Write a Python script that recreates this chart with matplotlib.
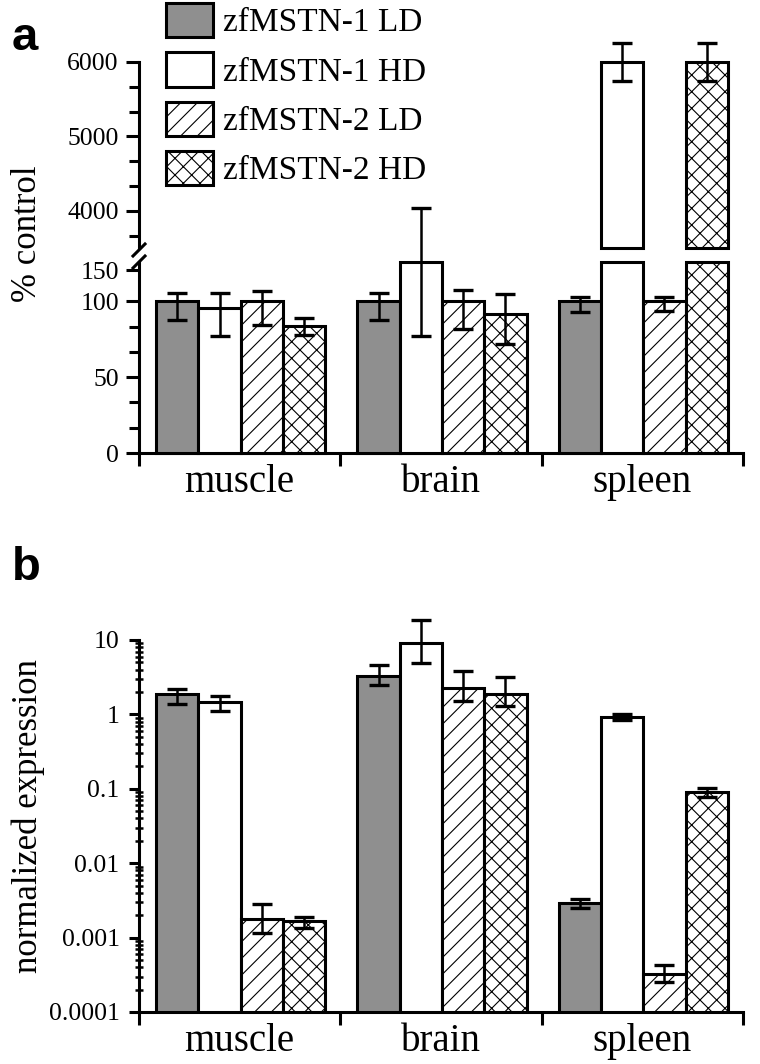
import numpy as np
import matplotlib
matplotlib.use('Agg')
import matplotlib.pyplot as plt
from matplotlib.patches import Patch

plt.rcParams['font.family'] = ['Liberation Serif', 'DejaVu Serif']
plt.rcParams['hatch.linewidth'] = 0.8

# Data
groups = ['muscle', 'brain', 'spleen']
series = ['zfMSTN-1 LD', 'zfMSTN-1 HD', 'zfMSTN-2 LD', 'zfMSTN-2 HD']

# panel a: % control (mean, +/- error)
pct_ld1 = [100, 100, 100]
pct_hd1 = [95.4, 163, 6000]
pct_ld2 = [100, 100, 100]
pct_hd2 = [83.5, 91.4, 6000]
pct_ld1_err = [12.5, 12.5, 6.8]
pct_hd1_err = [18, 86, 255]
pct_ld2_err = [15.7, 18, 6.6]
pct_hd2_err = [5.6, 19.7, 255]

# panel b: normalized expression (mean, lower end, upper end of error bar)
expr_ld1 = [1.9, 3.25, 0.00295]
expr_hd1 = [1.45, 9.0, 0.91]
expr_ld2 = [0.0018, 2.24, 0.000328]
expr_hd2 = [0.00169, 1.86, 0.0895]
expr_ld1_lo = [1.4, 2.45, 0.00253]
expr_hd1_lo = [1.1, 4.85, 0.83]
expr_ld2_lo = [0.00117, 1.5, 0.000257]
expr_hd2_lo = [0.00136, 1.28, 0.0767]
expr_ld1_hi = [2.2, 4.55, 0.00334]
expr_hd1_hi = [1.75, 18.4, 1.0]
expr_ld2_hi = [0.00286, 3.8, 0.000434]
expr_hd2_hi = [0.0019, 3.14, 0.104]

# styles
faces = ['#8f8f8f', 'white', 'white', 'white']
hatches = [None, None, '//', 'xx']
offsets = [-0.31, -0.10, 0.11, 0.32]
width = 0.21
lw = 2.2

W, H = 760, 1064
fig = plt.figure(figsize=(W / 100, H / 100), dpi=100)


def px_axes(left, top, right, bottom):
    return fig.add_axes([left / W, 1 - bottom / H, (right - left) / W, (bottom - top) / H])


ax_top = px_axes(139, 62, 743, 248)
ax_bot = px_axes(139, 262, 743, 453)
ax_b = px_axes(139, 640, 743, 1012)

x = np.arange(len(groups))
tick_font = 18.5
break_lo, break_hi = 163, 3500


# compressed segment above 100 on the lower axis
def fwd(y):
    y = np.asarray(y, dtype=float)
    return np.where(y <= 100, y, 100 + (y - 100) * 0.41)


def inv(f):
    f = np.asarray(f, dtype=float)
    return np.where(f <= 100, f, 100 + (f - 100) / 0.41)


ax_bot.set_yscale('function', functions=(fwd, inv))


def err_style(eb):
    for art in eb.get_children():
        art.set_clip_on(False)
        art.set_zorder(5)


pct_means = [pct_ld1, pct_hd1, pct_ld2, pct_hd2]
pct_errs = [pct_ld1_err, pct_hd1_err, pct_ld2_err, pct_hd2_err]
for i in range(4):
    m = np.array(pct_means[i], dtype=float)
    e = np.array(pct_errs[i], dtype=float)
    xs = x + offsets[i]
    low = np.minimum(m, break_lo)
    ax_bot.bar(xs, low, width, color=faces[i], edgecolor='k', linewidth=lw,
               hatch=hatches[i], clip_on=False, zorder=3)
    big = m > break_hi
    if big.any():
        ax_top.bar(xs[big], m[big] - break_hi, width, bottom=break_hi, color=faces[i],
                   edgecolor='k', linewidth=lw, hatch=hatches[i], clip_on=False, zorder=3)
        eb = ax_top.errorbar(xs[big], m[big], yerr=e[big], fmt='none', ecolor='k',
                             elinewidth=1.8, capsize=7, capthick=2.4)
        err_style(eb)
    eb = ax_bot.errorbar(xs[~big], m[~big], yerr=e[~big], fmt='none', ecolor='k',
                         elinewidth=1.8, capsize=7, capthick=2.4)
    err_style(eb)

ax_top.set_ylim(break_hi, 6000)
ax_bot.set_ylim(0, break_lo)
ax_top.set_yticks([4000, 5000, 6000])
ax_top.set_yticks([3666.7, 4333.3, 4666.7, 5333.3, 5666.7], minor=True)
ax_bot.set_yticks([0, 50, 100, 150])
ax_bot.set_yticklabels(['0', '50', '100', '150'])
ax_bot.set_yticks([16.67, 33.33, 66.67, 83.33], minor=True)

expr_means = [expr_ld1, expr_hd1, expr_ld2, expr_hd2]
expr_los = [expr_ld1_lo, expr_hd1_lo, expr_ld2_lo, expr_hd2_lo]
expr_his = [expr_ld1_hi, expr_hd1_hi, expr_ld2_hi, expr_hd2_hi]
ax_b.set_yscale('log')
for i in range(4):
    m = np.array(expr_means[i])
    lo = np.array(expr_los[i])
    hi = np.array(expr_his[i])
    xs = x + offsets[i]
    ax_b.bar(xs, m - 1e-4, width, bottom=1e-4, color=faces[i], edgecolor='k',
             linewidth=lw, hatch=hatches[i], zorder=3)
    eb = ax_b.errorbar(xs, m, yerr=[m - lo, hi - m], fmt='none', ecolor='k',
                       elinewidth=1.8, capsize=7, capthick=2.4)
    err_style(eb)
ax_b.set_ylim(1e-4, 10)
ax_b.set_yticks([1e-4, 1e-3, 1e-2, 1e-1, 1, 10])
ax_b.set_yticklabels(['0.0001', '0.001', '0.01', '0.1', '1', '10'])

for ax in (ax_top, ax_bot, ax_b):
    ax.set_xlim(-0.5, 2.5)
    ax.spines['top'].set_visible(False)
    ax.spines['right'].set_visible(False)
    ax.spines['left'].set_linewidth(lw)
    ax.spines['bottom'].set_linewidth(lw)
    ax.tick_params(axis='y', which='major', direction='out', length=9.5, width=lw,
                   labelsize=tick_font, pad=5)
    ax.tick_params(axis='y', which='minor', direction='out', length=7, width=lw)
    ax.patch.set_alpha(0)

ax_b.tick_params(axis='y', which='major', length=7, pad=7)
ax_b.tick_params(axis='y', which='minor', direction='inout', length=6, width=1.8)

ax_top.spines['bottom'].set_visible(False)
ax_top.set_xticks([])

for ax in (ax_bot, ax_b):
    ax.set_xticks([-0.5, 0.5, 1.5, 2.5])
    ax.set_xticklabels([])
    ax.set_xticks(x, minor=True)
    ax.set_xticklabels(groups, minor=True)
    ax.tick_params(axis='x', which='major', direction='out', length=9, width=lw)
    ax.tick_params(axis='x', which='minor', length=0, labelsize=28, pad=8)

# break marks on the y spine
d = 6
for yy in (250, 262):
    fig.add_artist(plt.Line2D([(139 - d) / W, (139 + d) / W],
                              [1 - (yy + d) / H, 1 - (yy - d) / H],
                              color='k', lw=lw))

fig.text(27 / W, 1 - 234 / H, '% control', rotation=90, ha='center', va='center',
         fontsize=25)
fig.text(28 / W, 1 - 816 / H, 'normalized expression', rotation=90, ha='center',
         va='center', fontsize=25)

fig.text(12 / W, 1 - 50 / H, 'a', fontsize=34, fontweight='bold',
         family=['Liberation Sans', 'DejaVu Sans'])
fig.text(12 / W, 1 - 580 / H, 'b', fontsize=34, fontweight='bold',
         family=['Liberation Sans', 'DejaVu Sans'])

handles = [Patch(facecolor=faces[i], edgecolor='k', linewidth=lw, hatch=hatches[i])
           for i in range(4)]
fig.legend(handles, series, loc='upper left', bbox_to_anchor=(166 / W, 1 - 3 / H),
           frameon=False, borderpad=0, borderaxespad=0, handlelength=1.4,
           handleheight=1.2, labelspacing=0.42, handletextpad=0.3, fontsize=24)

fig.savefig('out.png', dpi=100, facecolor='white')
